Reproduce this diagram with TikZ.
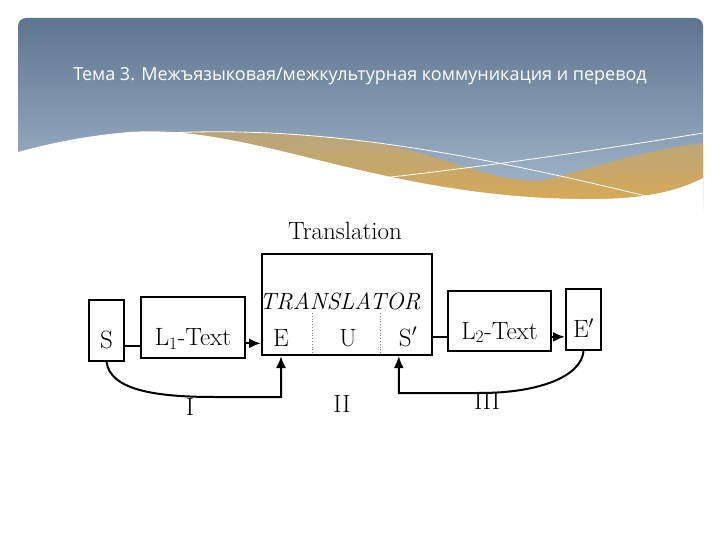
\documentclass[tikz,border=0pt]{standalone}
\usepackage{fontspec}
\newfontfamily\titlefont{Open Sans}
\usetikzlibrary{arrows.meta}
\definecolor{bannertop}{RGB}{94,117,143}
\definecolor{bannerbot}{RGB}{168,187,206}
\definecolor{goldtop}{RGB}{182,165,126}
\definecolor{goldbot}{RGB}{218,170,82}
\tikzset{
  box/.style={draw,line width=2pt,inner sep=0pt,font=\fontsize{25}{27}\selectfont,
    text height=40pt,text depth=4pt},
  lbl/.style={font=\fontsize{25}{27}\selectfont,inner sep=0pt,anchor=base},
  link/.style={line width=2pt},
  feed/.style={line width=2pt,-{Latex[length=12pt,width=10pt]}},
}
\begin{document}
\begin{tikzpicture}[x=1pt,y=-1pt]
  \useasboundingbox (0,0) rectangle (720,540);
  % banner
  \shade[top color=bannertop,bottom color=bannerbot,rounded corners=8pt]
    (18,210) -- (18,18) -- (703,18) -- (703,210) -- cycle;
  \shade[top color=goldtop,bottom color=goldbot]
    (140,133) .. controls (250,128) and (350,135) .. (400,148)
    .. controls (450,160) and (510,186) .. (545,180)
    .. controls (580,172) and (640,150) .. (703,143) -- (703,210) -- (140,210) -- cycle;
  \draw[white,line width=0.8pt] (150,134) .. controls (300,124) and (450,148) .. (650,197);
  \draw[white,line width=0.8pt] (325,184) .. controls (450,172) and (600,150) .. (703,133);
  \fill[white] (18,152) .. controls (40,146) and (80,136) .. (130,132)
    .. controls (190,128) and (250,143) .. (330,163)
    .. controls (420,185) and (500,200) .. (600,199)
    .. controls (650,198) and (680,190) .. (703,178) -- (703,215) -- (18,215) -- cycle;
  \node[text=white,font=\titlefont\fontsize{18}{20}\selectfont] (title) at (360,76)
    {Тема 3. Межъязыковая/межкультурная коммуникация и перевод};

  % boxes
  \node[box,minimum width=35pt,minimum height=61pt] (S) at (106.5,330.5) {S};
  \node[box,minimum width=104pt,minimum height=61pt] (L1) at (193,327.5) {L\textsubscript{1}-Text};
  \node[draw,line width=2pt,minimum width=170pt,minimum height=101pt] (trans) at (347,304.5) {};
  \node[box,minimum width=103pt,minimum height=60pt] (L2) at (499.5,321) {L\textsubscript{2}-Text};
  \node[box,minimum width=35pt,minimum height=61pt] (Ep) at (583.5,319.5) {E$'$};

  \node[lbl] (head) at (345,240) {Translation};
  \node[lbl,font=\fontsize{23.5}{26}\selectfont] (tor) at (340,309) {\itshape TRANSLATOR};
  \node[lbl] (E) at (281,346) {E};
  \node[lbl] (U) at (348,346) {U};
  \node[lbl] (Sp) at (408,346) {S$'$};
  \draw[dotted,gray,line width=0.8pt] (312,313) -- (312,355);
  \draw[dotted,gray,line width=0.8pt] (380,313) -- (380,355);

  % connectors
  \draw[link] (S.mid east) -- (L1.mid west |- S.mid east);
  \draw[feed] (L1.mid east) -- (L1.mid east -| trans.west);
  \draw[link] (L2.mid west) -- (L2.mid west -| trans.east);
  \draw[feed] (L2.mid east) -- (L2.mid east -| Ep.west);

  % feedback
  \coordinate (bendI) at (215,397);
  \coordinate (bendIII) at (480,393);
  \draw[feed] (S.south) .. controls +(4,28) and +(-60,0) .. (bendI) -| (E |- trans.south);
  \draw[feed] (Ep.south) .. controls +(-2,25) and +(60,0) .. (bendIII) -| (Sp.west |- trans.south);
  \node[lbl] (one) at (190,415) {I};
  \node[lbl] (two) at (342,412) {II};
  \node[lbl] (three) at (487,409) {III};
\end{tikzpicture}
\end{document}
